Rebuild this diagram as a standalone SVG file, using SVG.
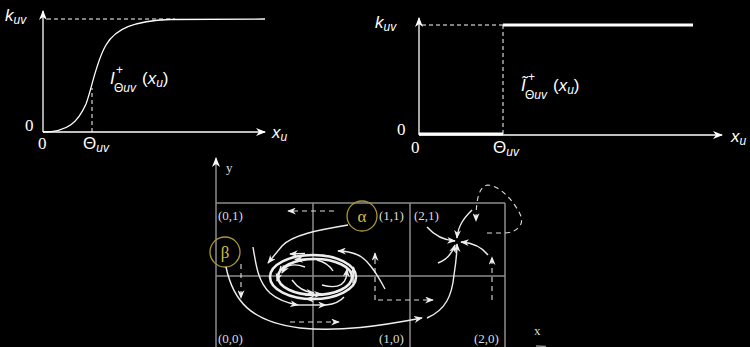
<svg xmlns="http://www.w3.org/2000/svg" width="750" height="347" viewBox="0 0 750 347">
<defs>
<style>
.ax{stroke:#fff;stroke-width:1.3;fill:none}
.ln{stroke:#fff;stroke-width:1.3;fill:none}
.th{stroke:#fff;stroke-width:3;fill:none}
.ds{stroke:#fff;stroke-width:1;fill:none;stroke-dasharray:4,3}
.gr{stroke:#8c8c8c;stroke-width:1.5;fill:none}
.fl{stroke:#eee;stroke-width:1.4;fill:none}
.fl2{stroke:#eee;stroke-width:2.6;fill:none}
.dd{stroke:#ddd;stroke-width:1.1;fill:none;stroke-dasharray:5,4}
.m{font-family:"Liberation Sans",Arial,sans-serif;font-style:italic;font-size:17px;fill:#fff}
.r{font-family:"Liberation Sans",Arial,sans-serif;font-size:17px;fill:#fff}
.s{font-family:"Liberation Sans",Arial,sans-serif;font-size:12px;fill:#fff}
.si{font-family:"Liberation Sans",Arial,sans-serif;font-style:italic;font-size:12px;fill:#fff}
.z{font-family:"Liberation Serif","Times New Roman",serif;font-size:17px;fill:#fff}
.g{font-family:"Liberation Serif","Times New Roman",serif;font-size:13px;fill:#ddd}
.cir{stroke:#a8963a;stroke-width:1.3;fill:none}
.gk{font-family:"Liberation Serif","DejaVu Serif",serif;font-size:17px;fill:#d4bc45}
</style>
<marker id="ah" viewBox="0 0 10 8" refX="9" refY="4" markerWidth="10" markerHeight="8" markerUnits="userSpaceOnUse" orient="auto">
<path d="M0,0 L10,4 L0,8 L3,4 z" fill="#fff"/>
</marker>
<marker id="as" viewBox="0 0 10 8" refX="9" refY="4" markerWidth="9" markerHeight="7" markerUnits="userSpaceOnUse" orient="auto">
<path d="M0,0 L10,4 L0,8 L3,4 z" fill="#eee"/>
</marker>
</defs>
<rect width="750" height="347" fill="#000"/>

<g id="plot-sigmoid">
<line class="ax" x1="43" y1="132" x2="43" y2="11" marker-end="url(#ah)"/>
<line class="ax" x1="43" y1="132" x2="265" y2="132" marker-end="url(#ah)"/>
<line class="ds" x1="47" y1="19" x2="175" y2="19"/>
<line class="ds" x1="92" y1="132" x2="92" y2="88"/>
<path class="ln" d="M43,132 C68,132 78,122 86,104 C92,88 96,62 106,45 C116,28 135,21 170,19.5 L265,19"/>
<text class="m" x="5" y="21">k<tspan class="si" dy="3">uv</tspan></text>
<text class="z" x="25" y="131">0</text>
<text class="z" x="38" y="149">0</text>
<text class="r" x="83" y="149">Θ<tspan class="si" dy="3">uv</tspan></text>
<text class="m" x="272" y="138">x<tspan class="si" dy="3">u</tspan></text>
<text class="m" x="110" y="84" font-size="19">I</text>
<text class="s" x="116" y="74" font-size="14">+</text>
<text class="s" x="114" y="92">Θ<tspan class="si">uv</tspan></text>
<text class="r" x="142" y="84">(<tspan class="m">x</tspan><tspan class="si" dy="3">u</tspan><tspan dy="-3">)</tspan></text>
</g>

<g id="plot-step">
<line class="ax" x1="419" y1="135" x2="419" y2="18" marker-end="url(#ah)"/>
<line class="ax" x1="419" y1="135" x2="722" y2="135" marker-end="url(#ah)"/>
<line class="ds" x1="422" y1="25" x2="503" y2="25"/>
<line class="ds" x1="503" y1="25" x2="503" y2="135"/>
<line class="th" x1="503" y1="25" x2="693" y2="25"/>
<line class="th" x1="419" y1="134" x2="503" y2="134"/>
<text class="m" x="375" y="28">k<tspan class="si" dy="3">uv</tspan></text>
<text class="z" x="397" y="135">0</text>
<text class="z" x="411" y="153">0</text>
<text class="r" x="493" y="153">Θ<tspan class="si" dy="3">uv</tspan></text>
<text class="m" x="731" y="142">x<tspan class="si" dy="3">u</tspan></text>
<text class="m" x="521" y="91" font-size="19">Ĩ</text>
<text class="s" x="528" y="81" font-size="14">+</text>
<text class="s" x="525" y="99">Θ<tspan class="si">uv</tspan></text>
<text class="r" x="553" y="91">(<tspan class="m">x</tspan><tspan class="si" dy="3">u</tspan><tspan dy="-3">)</tspan></text>
</g>

<g id="phase-grid">
<line class="gr" x1="216" y1="347" x2="216" y2="158" marker-end="url(#ah)"/>
<line class="gr" x1="216" y1="203" x2="505" y2="203"/>
<line class="gr" x1="216" y1="276" x2="505" y2="276"/>
<line class="gr" x1="313" y1="203" x2="313" y2="347"/>
<line class="gr" x1="410" y1="203" x2="410" y2="347"/>
<line class="gr" x1="505" y1="203" x2="505" y2="347"/>
<text class="g" x="226" y="172">y</text>
<text class="g" x="218" y="220">(0,1)</text>
<text class="g" x="379" y="220">(1,1)</text>
<text class="g" x="414" y="220">(2,1)</text>
<text class="g" x="218" y="343">(0,0)</text>
<text class="g" x="379" y="343">(1,0)</text>
<text class="g" x="474" y="343">(2,0)</text>
<text class="g" x="534" y="335">x</text>
<line class="gr" x1="536" y1="346" x2="546" y2="346.5"/>
</g>

<g id="alpha">
<circle class="cir" cx="362" cy="216" r="15"/>
<text class="gk" x="362" y="222" text-anchor="middle">α</text>
</g>
<g id="beta">
<circle class="cir" cx="225" cy="252" r="15"/>
<text class="gk" x="225" y="258" text-anchor="middle">β</text>
</g>

<g id="connectors">
<line class="dd" x1="334" y1="211" x2="288" y2="211" marker-end="url(#as)"/>
<line class="dd" x1="241" y1="264" x2="241" y2="298" marker-end="url(#as)"/>
<line class="dd" x1="290" y1="322" x2="339" y2="322" marker-end="url(#as)"/>
<line class="dd" x1="375" y1="300" x2="375" y2="253" marker-end="url(#as)"/>
<line class="dd" x1="378" y1="300" x2="433" y2="300" marker-end="url(#as)"/>
<line class="dd" x1="492" y1="300" x2="492" y2="257" marker-end="url(#as)"/>
<path class="dd" d="M487,233 L505,233 C518,232 525,224 520,214 C513,200 500,186 488,185 C480,186 476,196 476,221" marker-end="url(#as)"/>

<ellipse class="fl2" cx="313" cy="277" rx="43" ry="22"/>
<ellipse class="fl2" cx="315" cy="277" rx="37" ry="18"/>
<path class="fl" d="M305,253.5 L290,254" marker-end="url(#as)"/>
<path class="fl" d="M310,259 L295,259.5" marker-end="url(#as)"/>
<path class="fl" d="M281,266 L277,281" marker-end="url(#as)"/>
<path class="fl" d="M305,295 L322,294" marker-end="url(#as)"/>
<path class="fl" d="M322,299 L306,299" marker-end="url(#as)"/>
<path class="fl" d="M353,283 L353.5,267" marker-end="url(#as)"/>

<path class="fl" d="M305,267 C297,264 290,264 285,268 L282,273" marker-end="url(#as)"/>
<path class="fl" d="M292,280 C297,287 303,292 314,293" marker-end="url(#as)"/>
<path class="fl" d="M322,285 C333,288 343,287 346,278 L347,269" marker-end="url(#as)"/>
<path class="fl" d="M317,260 C325,262 330,266 333,271"/>

<path class="fl" d="M348,225 C318,230 292,235 282,246 L268,263" marker-end="url(#as)"/>
<path class="fl" d="M226,267 C233,300 250,322 300,328 C340,332 380,326 422,318" marker-end="url(#as)"/>
<path class="fl" d="M253,247 C256,265 258,282 270,293 C278,300 287,303 298,305" marker-end="url(#as)"/>
<path class="fl" d="M298,305 L326,305" marker-end="url(#as)"/>
<path class="fl" d="M326,305 C334,304 340,302 344,297"/>
<path class="fl" d="M385,289 C378,276 370,262 360,256 C352,252 345,251 338,251" marker-end="url(#as)"/>

<path class="fl" d="M427,227 C434,235 442,240 455,241" marker-end="url(#as)"/>
<path class="fl" d="M472,210 C465,217 458,225 457,238" marker-end="url(#as)"/>
<path class="fl" d="M488,255 C482,247 474,243 461,242" marker-end="url(#as)"/>
<path class="fl" d="M438,263 C446,260 452,254 455,245" marker-end="url(#as)"/>
<path class="fl" d="M427,318 C446,310 452,295 454,275 C456,262 457,252 457,244" marker-end="url(#as)"/>
</g>
</svg>
